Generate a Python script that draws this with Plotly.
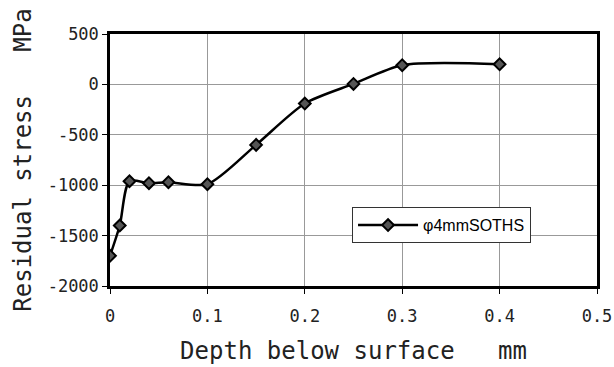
import plotly.graph_objects as go

depth_mm = [0.0, 0.01, 0.02, 0.04, 0.06, 0.10, 0.15, 0.20, 0.25, 0.30, 0.40]
stress_mpa = [-1700, -1400, -960, -980, -970, -990, -600, -190, 5, 190, 200]

x_tickvals = [0, 0.1, 0.2, 0.3, 0.4, 0.5]
x_ticktext = ["0", "0.1", "0.2", "0.3", "0.4", "0.5"]
y_tickvals = [500, 0, -500, -1000, -1500, -2000]
y_ticktext = ["500", "0", "-500", "-1000", "-1500", "-2000"]

mono = "DejaVu Sans Mono"

fig = go.Figure()
fig.add_trace(go.Scatter(
    x=depth_mm, y=stress_mpa, mode="lines+markers", name="φ4mmSOTHS",
    line=dict(color="black", width=2.5, shape="spline", smoothing=0.75),
    marker=dict(symbol="diamond", size=9, color="#555", line=dict(color="black", width=2)),
))

fig.update_layout(
    width=614, height=367,
    margin=dict(l=110, r=17, t=34, b=81),
    paper_bgcolor="white", plot_bgcolor="white",
    showlegend=True,
    legend=dict(
        x=0.497, y=0.313, xanchor="left", yanchor="top",
        bgcolor="white", bordercolor="#333", borderwidth=1,
        itemwidth=60,
        font=dict(family="Liberation Sans", size=16, color="black"),
    ),
    xaxis=dict(
        range=[0, 0.5], tickvals=x_tickvals, ticktext=x_ticktext,
        showgrid=True, gridcolor="#999", gridwidth=1,
        showline=True, linecolor="black", linewidth=2.5, mirror=True,
        ticks="outside", ticklen=5, tickcolor="black",
        zeroline=False, ticklabelstandoff=8, automargin=False,
        tickfont=dict(family=mono, size=17, color="#222"),
        title=dict(text="Depth below surface   mm", font=dict(family=mono, size=24, color="#222"), standoff=18),
    ),
    yaxis=dict(
        range=[-2000, 500], tickvals=y_tickvals, ticktext=y_ticktext,
        showgrid=True, gridcolor="#999", gridwidth=1,
        showline=True, linecolor="black", linewidth=2.5, mirror=True,
        ticks="outside", ticklen=5, tickcolor="black",
        zeroline=False, automargin=False,
        tickfont=dict(family=mono, size=17, color="#222"),
        title=dict(text="Residual stress   MPa", font=dict(family=mono, size=24, color="#222"), standoff=10),
    ),
)

fig.write_html("out.html")
